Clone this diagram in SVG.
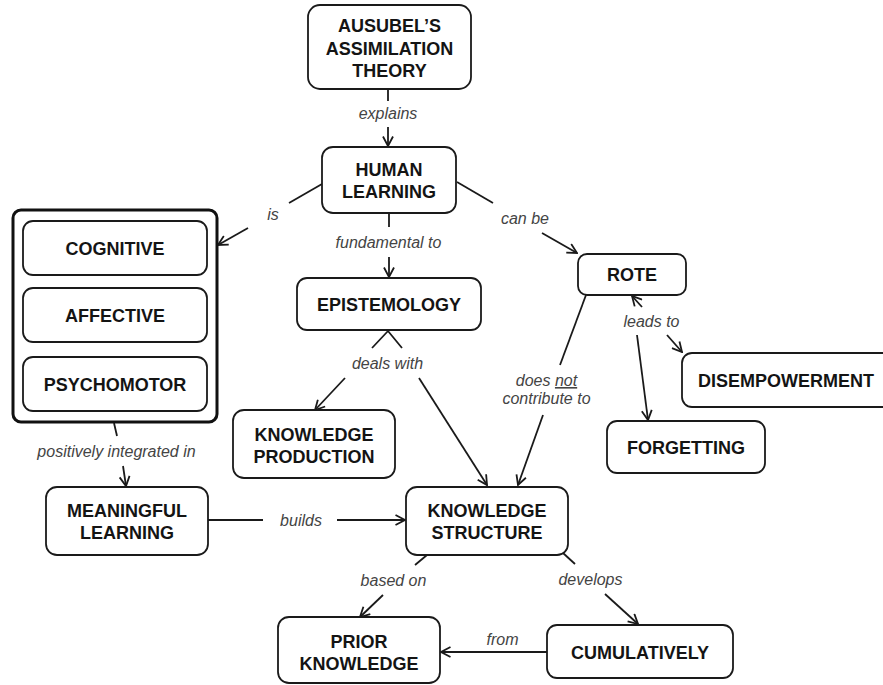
<svg xmlns="http://www.w3.org/2000/svg" width="883" height="685" viewBox="0 0 883 685">
  <style>
    .box { fill: #ffffff; stroke: #1a1a1a; stroke-width: 1.8; }
    .frame { fill: #ffffff; stroke: #111111; stroke-width: 3; }
    .node { font-family: "Liberation Sans", Arial, sans-serif; font-weight: bold; font-size: 18px; fill: #141414; text-anchor: middle; }
    .lbl { font-family: "Liberation Sans", Arial, sans-serif; font-style: italic; font-size: 16px; fill: #444444; text-anchor: middle; }
    .con { fill: none; stroke: #1a1a1a; stroke-width: 1.8; }
  </style>
  <defs>
    <marker id="arrow" viewBox="0 0 12 12" refX="11" refY="6" markerWidth="12" markerHeight="12" markerUnits="userSpaceOnUse" orient="auto">
      <path d="M1.5,1 L11,6 L1.5,11" fill="none" stroke="#1a1a1a" stroke-width="1.8"/>
    </marker>
  </defs>
  <rect width="883" height="685" fill="#ffffff"/>

  <!-- connectors and linking phrases -->
  <g id="connectors">
    <!-- explains -->
    <path class="con" d="M388,89 L388,101"/>
    <text class="lbl" x="388" y="119">explains</text>
    <path class="con" d="M388,127 L388,146" marker-end="url(#arrow)"/>

    <!-- is -->
    <path class="con" d="M322,184 L289,203"/>
    <text class="lbl" x="273" y="220">is</text>
    <path class="con" d="M248,228 L218,245" marker-end="url(#arrow)"/>

    <!-- fundamental to -->
    <path class="con" d="M389,213 L389,227"/>
    <text class="lbl" x="388.5" y="248">fundamental to</text>
    <path class="con" d="M389,257 L389,277" marker-end="url(#arrow)"/>

    <!-- can be -->
    <path class="con" d="M457,182 L493,203"/>
    <text class="lbl" x="525" y="224">can be</text>
    <path class="con" d="M542,233 L577,253" marker-end="url(#arrow)"/>

    <!-- deals with -->
    <path class="con" d="M372,348 L388,331 L402,348"/>
    <text class="lbl" x="387.5" y="369">deals with</text>
    <path class="con" d="M345,378 L315,410" marker-end="url(#arrow)"/>
    <path class="con" d="M419,378 L487,485" marker-end="url(#arrow)"/>

    <!-- does not contribute to -->
    <path class="con" d="M586,295 L560,365"/>
    <text class="lbl" x="546.5" y="386">does <tspan text-decoration="underline">not</tspan></text>
    <text class="lbl" x="546.5" y="404">contribute to</text>
    <path class="con" d="M543,415 L518,485" marker-end="url(#arrow)"/>

    <!-- leads to -->
    <path class="con" d="M642,307 L632,296" marker-end="url(#arrow)"/>
    <text class="lbl" x="651.5" y="327">leads to</text>
    <path class="con" d="M667,335 L682,352" marker-end="url(#arrow)"/>
    <path class="con" d="M637,335 L648,420" marker-end="url(#arrow)"/>

    <!-- positively integrated in -->
    <path class="con" d="M114,423 L117,436"/>
    <text class="lbl" x="116.5" y="457">positively integrated in</text>
    <path class="con" d="M123,466 L126,486" marker-end="url(#arrow)"/>

    <!-- builds -->
    <path class="con" d="M208,520 L263,520"/>
    <text class="lbl" x="301" y="526">builds</text>
    <path class="con" d="M337,520 L405,520" marker-end="url(#arrow)"/>

    <!-- based on -->
    <path class="con" d="M427,555 L415,565"/>
    <text class="lbl" x="393.5" y="586">based on</text>
    <path class="con" d="M383,595 L360,617" marker-end="url(#arrow)"/>

    <!-- develops -->
    <path class="con" d="M563,553 L575,564"/>
    <text class="lbl" x="590.5" y="585">develops</text>
    <path class="con" d="M605,594 L638,624" marker-end="url(#arrow)"/>

    <!-- from -->
    <text class="lbl" x="502.5" y="645">from</text>
    <path class="con" d="M547,652 L441,652" marker-end="url(#arrow)"/>
  </g>

  <!-- concepts -->
  <g id="ausubel">
    <rect class="box" x="308" y="5" width="163" height="84" rx="12"/>
    <text class="node" x="389.5" y="32">AUSUBEL’S</text>
    <text class="node" x="389.5" y="54.5">ASSIMILATION</text>
    <text class="node" x="389.5" y="77">THEORY</text>
  </g>

  <g id="human-learning">
    <rect class="box" x="322" y="147" width="134" height="66" rx="11"/>
    <text class="node" x="389" y="176">HUMAN</text>
    <text class="node" x="389" y="198">LEARNING</text>
  </g>

  <g id="domains">
    <rect class="frame" x="13" y="210" width="204" height="212" rx="8"/>
    <g id="cognitive">
      <rect class="box" x="23" y="221" width="184" height="54" rx="10"/>
      <text class="node" x="115" y="254.5">COGNITIVE</text>
    </g>
    <g id="affective">
      <rect class="box" x="23" y="288" width="184" height="54" rx="10"/>
      <text class="node" x="115" y="321.5">AFFECTIVE</text>
    </g>
    <g id="psychomotor">
      <rect class="box" x="23" y="357" width="184" height="54" rx="10"/>
      <text class="node" x="115" y="390.5">PSYCHOMOTOR</text>
    </g>
  </g>

  <g id="epistemology">
    <rect class="box" x="297" y="278" width="184" height="52" rx="10"/>
    <text class="node" x="389" y="310.5">EPISTEMOLOGY</text>
  </g>

  <g id="rote">
    <rect class="box" x="578" y="254" width="108" height="41" rx="9"/>
    <text class="node" x="632" y="281">ROTE</text>
  </g>

  <g id="disempowerment">
    <rect class="box" x="682" y="353" width="215" height="54" rx="10"/>
    <text class="node" x="786" y="386.5">DISEMPOWERMENT</text>
  </g>

  <g id="forgetting">
    <rect class="box" x="607" y="421" width="158" height="52" rx="10"/>
    <text class="node" x="686" y="453.5">FORGETTING</text>
  </g>

  <g id="knowledge-production">
    <rect class="box" x="233" y="410" width="162" height="68" rx="11"/>
    <text class="node" x="314" y="441">KNOWLEDGE</text>
    <text class="node" x="314" y="462.5">PRODUCTION</text>
  </g>

  <g id="meaningful-learning">
    <rect class="box" x="46" y="487" width="162" height="68" rx="11"/>
    <text class="node" x="127" y="517">MEANINGFUL</text>
    <text class="node" x="127" y="538.5">LEARNING</text>
  </g>

  <g id="knowledge-structure">
    <rect class="box" x="406" y="487" width="162" height="68" rx="11"/>
    <text class="node" x="487" y="517">KNOWLEDGE</text>
    <text class="node" x="487" y="539">STRUCTURE</text>
  </g>

  <g id="prior-knowledge">
    <rect class="box" x="278" y="617" width="162" height="66" rx="11"/>
    <text class="node" x="359" y="648">PRIOR</text>
    <text class="node" x="359" y="670">KNOWLEDGE</text>
  </g>

  <g id="cumulatively">
    <rect class="box" x="547" y="625" width="186" height="53" rx="10"/>
    <text class="node" x="640" y="658.5">CUMULATIVELY</text>
  </g>
</svg>
